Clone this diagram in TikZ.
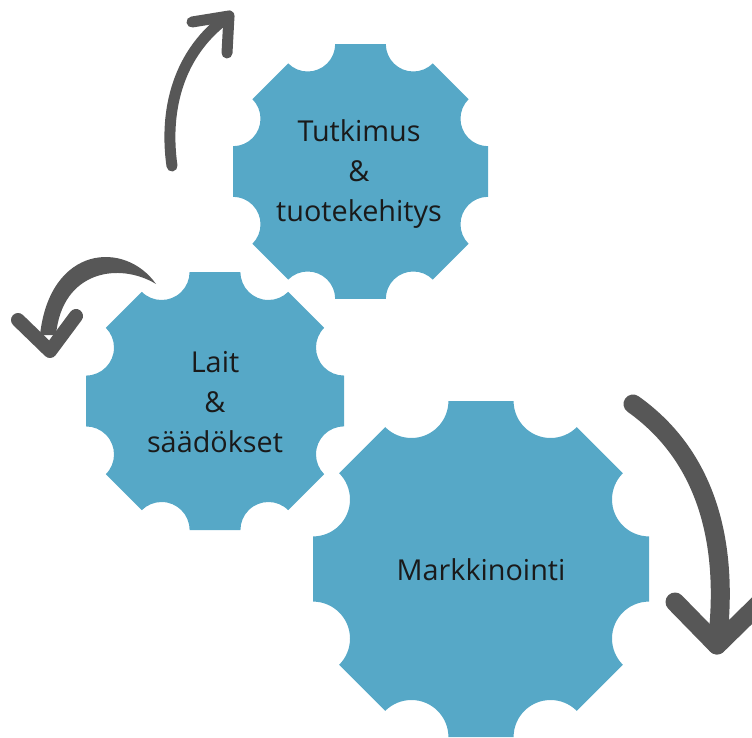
\documentclass[tikz,border=0pt]{standalone}
\usepackage{fontspec}
\setmainfont{Open Sans}
\usetikzlibrary{calc}

\definecolor{gearblue}{RGB}{86,168,199}
\definecolor{arrowgray}{RGB}{87,87,87}
\definecolor{labeltext}{RGB}{26,26,26}

\tikzset{
  % octagonal cog: #1 = apothem, #2 = radius of the notch cut at each corner
  pics/gear/.style 2 args={code={
    \pgfmathsetmacro\gearR{#1/cos(22.5)}
    \fill[gearblue] ($(22.5:\gearR)+(270:#2)$)
      \foreach \t in {22.5,67.5,112.5,157.5,202.5,247.5,292.5,337.5}{
        -- ($(\t:\gearR)+(\t+247.5:#2)$)
        arc[start angle=\t+247.5, end angle=\t+112.5, radius=#2]
      } -- cycle;
  }},
  gearlabel/.style={font=\fontsize{28.8}{40}\selectfont, text=labeltext, align=center, inner sep=0pt},
  curvedarrow/.style={draw=arrowgray, line cap=round, line join=round},
}

\begin{document}
\begin{tikzpicture}[x=1pt, y=-1pt]
  \clip (0,0) rectangle (752,738);

  % cogs
  \pic at (481,569) {gear={168}{37}};
  \pic at (215,401) {gear={129}{28}};
  \pic at (360.5,171.5) {gear={127.5}{27.5}};

  % labels
  \node[gearlabel] (rd)  at (359,174) {Tutkimus\\\&\\tuotekehitys};
  \node[gearlabel] (law) at (215,402.5) {Lait\\\&\\säädökset};
  \node[gearlabel] (mkt) at (481,569.5) {Markkinointi};

  % upper arrow, rising to the right
  \coordinate (aTail) at (172,166);
  \coordinate (aTip)  at (229,16);
  \coordinate (aArmL) at (192,22);
  \coordinate (aArmD) at (227,53);
  \draw[curvedarrow, line width=11] (aTail) .. controls (164,110) and (178,52) .. (aTip);
  \draw[curvedarrow, line width=11] (aArmL) -- (aTip) -- (aArmD);

  % left arrow, tapered tail sweeping down to the left
  \coordinate (bTail) at (156,284);
  \coordinate (bTip)  at (50,351);
  \coordinate (bArmL) at (18,320);
  \coordinate (bArmR) at (76,316);
  \fill[arrowgray] (bTail) .. controls (125,240) and (50,245) .. (40,335)
    -- (56,335) .. controls (62,270) and (120,262) .. (bTail) -- cycle;
  \draw[curvedarrow, line width=14] (bArmL) -- (bTip) -- (bArmR);

  % right arrow, sweeping down
  \coordinate (cTail) at (633,404);
  \coordinate (cTip)  at (717,645);
  \coordinate (cArmL) at (675,602);
  \coordinate (cArmR) at (765,598);
  \draw[curvedarrow, line width=19] (cTail) .. controls (705,455) and (730,540) .. (cTip);
  \draw[curvedarrow, line width=19] (cArmL) -- (cTip) -- (cArmR);
\end{tikzpicture}
\end{document}
